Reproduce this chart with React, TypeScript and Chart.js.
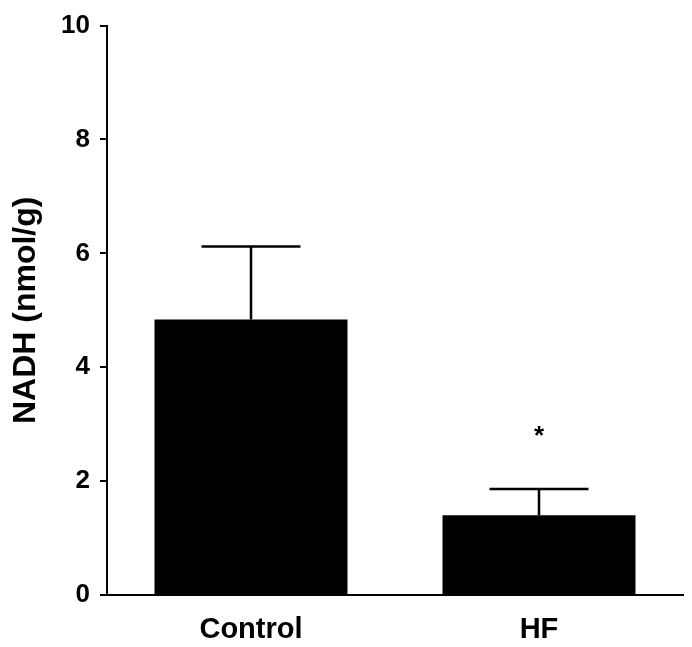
import React, { useEffect, useRef } from "react";
import { Chart, registerables } from "chart.js";

Chart.register(...registerables);

const categories = ["Control", "HF"];
const means = [4.84, 1.4];
const sems = [1.28, 0.46];
const marks = ["", "*"];
const markValues = [0, 2.85];
const yTicks = [0, 2, 4, 6, 8, 10];
const yTitle = "NADH (nmol/g)";

const FONT = "'Liberation Sans', Arial, Helvetica, sans-serif";

const errorBarPlugin = {
  id: "errorBars",
  afterDatasetsDraw(chart: any) {
    const ctx = chart.ctx;
    const meta = chart.getDatasetMeta(0);
    const y = chart.scales.y;
    ctx.save();
    ctx.strokeStyle = "#000";
    ctx.lineWidth = 2.5;
    meta.data.forEach((bar: any, i: number) => {
      const top = y.getPixelForValue(means[i] + sems[i]);
      const base = y.getPixelForValue(means[i]);
      const half = bar.width / 3.9;
      ctx.beginPath();
      ctx.moveTo(bar.x, base);
      ctx.lineTo(bar.x, top);
      ctx.moveTo(bar.x - half, top);
      ctx.lineTo(bar.x + half, top);
      ctx.stroke();
      if (marks[i]) {
        ctx.fillStyle = "#000";
        ctx.font = `bold 26px ${FONT}`;
        ctx.textAlign = "center";
        ctx.textBaseline = "middle";
        ctx.fillText(marks[i], bar.x, y.getPixelForValue(markValues[i]) + 4);
      }
    });
    ctx.restore();
  },
};

export default function App() {
  const ref = useRef<HTMLCanvasElement | null>(null);
  useEffect(() => {
    document.body.style.margin = "0";
    if (!ref.current) return;
    const chart = new Chart(ref.current, {
      type: "bar",
      data: {
        labels: categories,
        datasets: [
          {
            data: means,
            backgroundColor: "#000",
            borderWidth: 0,
            categoryPercentage: 1,
            barPercentage: 0.67,
          },
        ],
      },
      options: {
        animation: false,
        responsive: false,
        maintainAspectRatio: false,
        layout: { padding: { top: 25, right: 9, bottom: 0, left: 0 } },
        plugins: { legend: { display: false }, tooltip: { enabled: false } },
        scales: {
          x: {
            grid: { display: false },
            border: { display: true, color: "#000", width: 2 },
            ticks: {
              color: "#000",
              padding: 10,
              font: { family: FONT, size: 29, weight: "bold" },
            },
            afterFit(scale: any) {
              scale.height = 52;
            },
          },
          y: {
            min: 0,
            max: 10,
            afterBuildTicks(scale: any) {
              scale.ticks = yTicks.map((v) => ({ value: v }));
            },
            grid: {
              drawOnChartArea: false,
              drawTicks: true,
              tickLength: 7,
              color: "#000",
              lineWidth: 2,
            },
            border: { display: true, color: "#000", width: 2 },
            ticks: {
              color: "#000",
              padding: 10,
              font: { family: FONT, size: 26, weight: "bold" },
            },
            title: {
              display: true,
              text: yTitle,
              color: "#000",
              padding: { top: 7, bottom: 0 },
              font: { family: FONT, size: 32, weight: "bold" },
            },
            afterFit(scale: any) {
              scale.width = 107;
            },
          },
        },
      },
      plugins: [errorBarPlugin],
    });
    return () => chart.destroy();
  }, []);
  return (
    <div style={{ width: 692, height: 647, background: "#fff" }}>
      <canvas ref={ref} width={692} height={647} style={{ display: "block" }} />
    </div>
  );
}
